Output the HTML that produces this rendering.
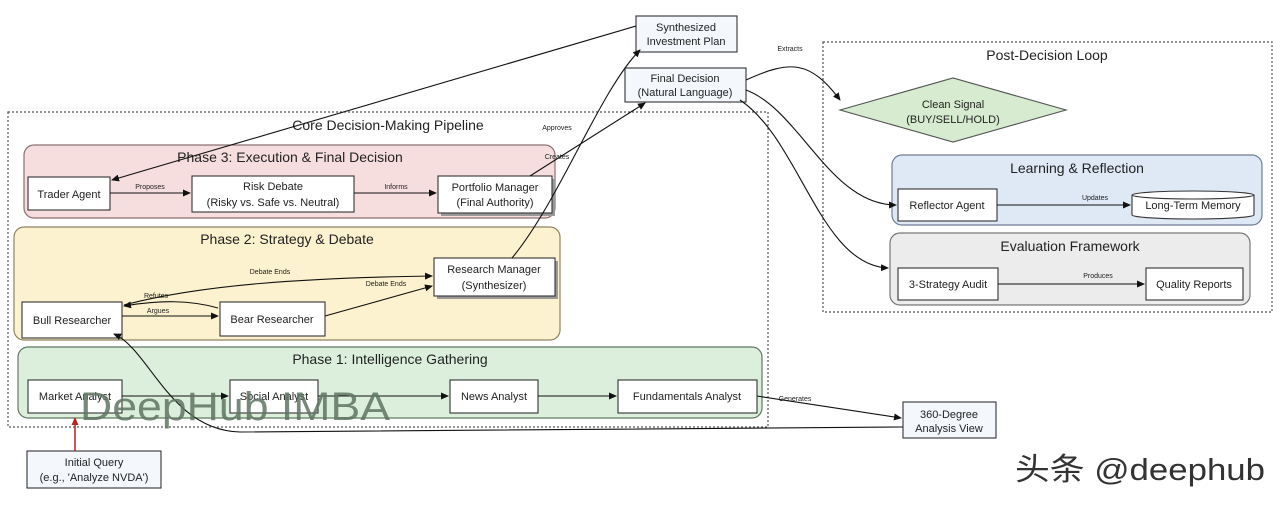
<!DOCTYPE html>
<html><head><meta charset="utf-8"><style>
html,body{margin:0;padding:0;background:#fff;width:1280px;height:510px;overflow:hidden}
svg text{font-family:"Liberation Sans","Noto Sans CJK SC",sans-serif;fill:#222}
</style></head><body>
<svg width="1280" height="510" viewBox="0 0 1280 510" xmlns="http://www.w3.org/2000/svg">
<defs>
<marker id="a" markerWidth="8" markerHeight="8" refX="7" refY="4" orient="auto" markerUnits="userSpaceOnUse"><path d="M0,0.5 L8,4 L0,7.5z" fill="#111"/></marker>
<marker id="r" markerWidth="8" markerHeight="8" refX="7" refY="4" orient="auto" markerUnits="userSpaceOnUse"><path d="M0,0.5 L8,4 L0,7.5z" fill="#b22"/></marker>
</defs>
<g fill="none" stroke="#555" stroke-dasharray="2,2" stroke-width="1.2">
<rect x="8" y="112" width="760" height="315"/>
<rect x="823" y="42" width="449" height="270"/>
</g>
<text x="388" y="130" font-size="14" text-anchor="middle">Core Decision-Making Pipeline</text>
<text x="1047" y="60" font-size="14" text-anchor="middle">Post-Decision Loop</text>
<rect x="24" y="145" width="531" height="73" rx="10" fill="#f7dede" stroke="#8a7070" stroke-width="1.2"/>
<text x="290" y="162" font-size="14" text-anchor="middle">Phase 3: Execution &amp; Final Decision</text>
<rect x="14" y="227" width="546" height="113" rx="10" fill="#fdf2cf" stroke="#8f8460" stroke-width="1.2"/>
<text x="287" y="244" font-size="14" text-anchor="middle">Phase 2: Strategy &amp; Debate</text>
<rect x="18" y="347" width="744" height="71" rx="10" fill="#dbefdc" stroke="#607a60" stroke-width="1.2"/>
<text x="390" y="364" font-size="14" text-anchor="middle">Phase 1: Intelligence Gathering</text>
<rect x="892" y="155" width="370" height="70" rx="10" fill="#dfe9f6" stroke="#6f7f95" stroke-width="1.2"/>
<text x="1077" y="173" font-size="14" text-anchor="middle">Learning &amp; Reflection</text>
<rect x="890" y="233" width="360" height="72" rx="10" fill="#ececec" stroke="#777" stroke-width="1.2"/>
<text x="1070" y="251" font-size="14" text-anchor="middle">Evaluation Framework</text>
<g stroke="#333" stroke-width="1.1" fill="#fff">
<rect x="636" y="16" width="101" height="36" fill="#f4f7fc"/>
<rect x="625" y="68" width="121" height="34" fill="#f4f7fc"/>
<rect x="28" y="177" width="82" height="33"/>
<rect x="192" y="176" width="162" height="36"/>
<rect x="441" y="179" width="114" height="37" fill="#999" stroke="none"/>
<rect x="438" y="176" width="114" height="37"/>
<rect x="437" y="261" width="121" height="38" fill="#999" stroke="none"/>
<rect x="434" y="258" width="121" height="38"/>
<rect x="22" y="302" width="100" height="36"/>
<rect x="220" y="302" width="105" height="34"/>
<rect x="28" y="380" width="94" height="33"/>
<rect x="230" y="380" width="88" height="33"/>
<rect x="450" y="380" width="88" height="33"/>
<rect x="618" y="380" width="139" height="33"/>
<rect x="903" y="402" width="93" height="36" fill="#f4f7fc"/>
<rect x="27" y="451" width="134" height="37" fill="#f4f7fc"/>
<polygon points="840,110 953,78 1066,110 953,142" fill="#d6ebcf" stroke="#555"/>
<rect x="898" y="189" width="99" height="32"/>
<path d="M1132,195 v20 a61,4 0 0 0 122,0 v-20 a61,4 0 0 0 -122,0 a61,4 0 0 0 122,0" />
<rect x="898" y="268" width="100" height="32"/>
<rect x="1146" y="268" width="97" height="32"/>
</g>
<g font-size="11" text-anchor="middle">
<text x="686" y="31">Synthesized</text><text x="686" y="45">Investment Plan</text>
<text x="685" y="82">Final Decision</text><text x="685" y="96">(Natural Language)</text>
<text x="69" y="198">Trader Agent</text>
<text x="273" y="190">Risk Debate</text><text x="273" y="206">(Risky vs. Safe vs. Neutral)</text>
<text x="495" y="191">Portfolio Manager</text><text x="495" y="206">(Final Authority)</text>
<text x="494" y="273">Research Manager</text><text x="494" y="289">(Synthesizer)</text>
<text x="72" y="324">Bull Researcher</text>
<text x="272" y="323">Bear Researcher</text>
<text x="75" y="400">Market Analyst</text>
<text x="274" y="400">Social Analyst</text>
<text x="494" y="400">News Analyst</text>
<text x="687" y="400">Fundamentals Analyst</text>
<text x="949" y="418">360-Degree</text><text x="949" y="432">Analysis View</text>
<text x="94" y="466">Initial Query</text><text x="94" y="481">(e.g., 'Analyze NVDA')</text>
<text x="953" y="108">Clean Signal</text><text x="953" y="123">(BUY/SELL/HOLD)</text>
<text x="947" y="209">Reflector Agent</text>
<text x="1193" y="209">Long-Term Memory</text>
<text x="948" y="288">3-Strategy Audit</text>
<text x="1194" y="288">Quality Reports</text>
</g>
<g font-size="7" text-anchor="middle">
<text x="150" y="189">Proposes</text><text x="396" y="189">Informs</text>
<text x="557" y="130">Approves</text><text x="557" y="159">Creates</text>
<text x="270" y="274">Debate Ends</text><text x="386" y="286">Debate Ends</text>
<text x="156" y="298">Refutes</text><text x="158" y="313">Argues</text>
<text x="790" y="51">Extracts</text><text x="1095" y="200">Updates</text><text x="1098" y="278">Produces</text>
<text x="795" y="401">Generates</text>
</g>
<g fill="none" stroke="#111" stroke-width="1.1" marker-end="url(#a)">
<path d="M110,193 H190"/><path d="M354,193 H436"/>
<path d="M530,176 L645,103"/>
<path d="M512,258 C560,200 600,90 640,50" />
<path d="M636,26 L112,180"/>
<path d="M122,316 H218"/>
<path d="M218,308 C190,300 160,300 124,306"/>
<path d="M124,305 C200,285 300,278 432,276"/>
<path d="M325,316 L432,286"/>
<path d="M122,396 H228"/><path d="M318,396 H448"/><path d="M538,396 H616"/>
<path d="M757,396 L901,418"/>
<path d="M903,427 L240,432 C170,430 150,350 114,334"/>
<path d="M746,80 C790,60 810,60 840,100"/>
<path d="M746,90 C800,110 830,205 896,205"/>
<path d="M740,100 C800,140 820,265 888,268"/>
<path d="M997,205 H1130"/><path d="M998,284 H1144"/>
</g>
<path d="M75,451 V418" stroke="#b22" stroke-width="1.5" fill="none" marker-end="url(#r)"/>
<text x="80" y="420" font-size="40" textLength="310" lengthAdjust="spacingAndGlyphs" style="fill:#5f7563;opacity:0.85">DeepHub IMBA</text>
<text x="1015" y="480" font-size="31" textLength="250" lengthAdjust="spacingAndGlyphs" style="fill:#333">头条 @deephub</text>
</svg>
</body></html>
